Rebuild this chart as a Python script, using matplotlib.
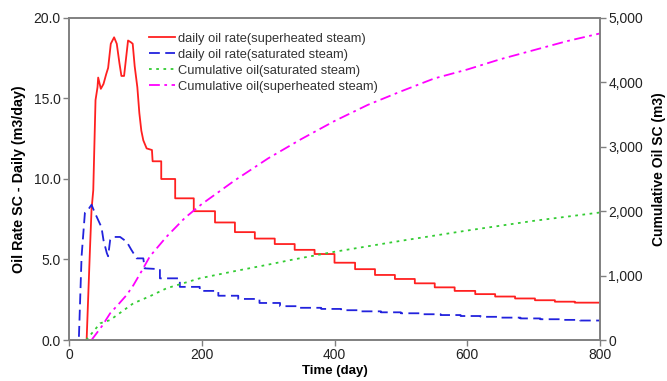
import matplotlib.pyplot as plt

plt.rcParams['font.family'] = ['Liberation Sans', 'DejaVu Sans']

# Datos
dias_sup = [26.6, 29, 31.6, 34, 36.6, 40, 43, 44, 48, 52, 56, 59, 63, 68, 72, 76, 79, 83, 86, 89, 93, 96,
            99, 103, 106, 109, 112, 117, 125, 126, 139, 139, 160, 160, 188, 188, 220, 220, 250, 250,
            280, 280, 310, 310, 340, 340, 370, 370, 400, 400, 431, 431, 461, 461, 491, 491, 521, 521,
            551, 551, 581, 581, 612, 612, 642, 642, 672, 672, 702, 702, 732, 732, 762, 762, 800]
tasa_sup = [0, 2.7, 5.6, 8.1, 9.3, 14.9, 15.7, 16.3, 15.6, 15.9, 16.5, 16.9, 18.4, 18.8, 18.4, 17.2, 16.4,
            16.4, 17.5, 18.6, 18.5, 18.4, 17.0, 15.7, 14.1, 13.0, 12.4, 11.9, 11.8, 11.1, 11.1, 10.0,
            10.0, 8.8, 8.8, 8.0, 8.0, 7.3, 7.3, 6.7, 6.7, 6.3, 6.3, 5.96, 5.96, 5.6, 5.6, 5.34, 5.34,
            4.8, 4.8, 4.4, 4.4, 4.04, 4.04, 3.79, 3.79, 3.52, 3.52, 3.27, 3.27, 3.05, 3.05, 2.85, 2.85,
            2.7, 2.7, 2.58, 2.58, 2.47, 2.47, 2.38, 2.38, 2.32, 2.32]

dias_sat = [15, 19, 24, 29, 34, 39, 44, 49, 52, 57, 59, 62, 67, 77, 87, 94, 102, 112, 114, 137, 137,
            167, 167, 197, 197, 225, 225, 255, 255, 287, 287, 318, 318, 348, 348, 380, 380, 410, 410,
            440, 440, 470, 470, 500, 500, 530, 530, 560, 560, 590, 590, 620, 620, 650, 650, 680, 680,
            710, 710, 740, 740, 770, 770, 800]
tasa_sat = [0.2, 5.2, 7.9, 8.1, 8.4, 7.9, 7.45, 7.0, 6.2, 5.4, 5.2, 6.2, 6.4, 6.4, 6.1, 5.6, 5.07, 5.07,
            4.45, 4.4, 3.83, 3.83, 3.3, 3.3, 3.05, 3.05, 2.75, 2.75, 2.55, 2.55, 2.3, 2.3, 2.1, 2.1,
            2.0, 2.0, 1.93, 1.93, 1.85, 1.85, 1.78, 1.78, 1.72, 1.72, 1.66, 1.66, 1.6, 1.6, 1.55, 1.55,
            1.49, 1.49, 1.44, 1.44, 1.39, 1.39, 1.34, 1.34, 1.29, 1.29, 1.25, 1.25, 1.21, 1.21]

dias_acum_sat = [26, 47, 62, 97, 122, 147, 197, 250, 300, 333, 400, 500, 600, 700, 800]
acum_sat = [0, 259, 310, 570, 680, 803, 958, 1070, 1170, 1240, 1370, 1540, 1700, 1850, 1980]

dias_acum_sup = [34, 50, 62, 75, 87, 97, 110, 122, 147, 175, 200, 250, 300, 350, 400, 450, 500,
                 550, 600, 650, 700, 750, 800]
acum_sup = [0, 220, 414, 560, 700, 850, 1080, 1300, 1604, 1900, 2110, 2480, 2820, 3120, 3400, 3650,
            3860, 4060, 4200, 4360, 4500, 4640, 4760]

fig = plt.figure(figsize=(6.67, 3.81), dpi=100)
ax = fig.add_axes([0.1034, 0.1076, 0.7962, 0.8452])
ax2 = ax.twinx()

l1, = ax.plot(dias_sup, tasa_sup, color='#ff2020', lw=1.3, label='daily oil rate(superheated steam)')
l2, = ax.plot(dias_sat, tasa_sat, color='#2222dd', lw=1.3, dashes=(6, 3),
              label='daily oil rate(saturated steam)')
l3, = ax2.plot(dias_acum_sat, acum_sat, color='#33cc33', lw=1.3, dashes=(1.5, 2.5),
               label='Cumulative oil(saturated steam)')
l4, = ax2.plot(dias_acum_sup, acum_sup, color='#ff00ff', lw=1.3, dashes=(6, 2.5, 1.5, 2.5),
               label='Cumulative oil(superheated steam)')

ax.set_xlim(0, 800)
ax.set_ylim(0, 20)
ax2.set_ylim(0, 5000)
ax.set_xticks([0, 200, 400, 600, 800])
ax.set_yticks([0, 5, 10, 15, 20])
ax.set_yticklabels(['0.0', '5.0', '10.0', '15.0', '20.0'])
ax2.set_yticks([0, 1000, 2000, 3000, 4000, 5000])
ax2.set_yticklabels(['0', '1,000', '2,000', '3,000', '4,000', '5,000'])

for a in (ax, ax2):
    for s in a.spines.values():
        s.set_color('#808080')
        s.set_linewidth(1.2)
    a.tick_params(colors='#808080', labelcolor='#222222', labelsize=10, length=4, width=1, pad=2)

ax.set_xlabel('Time (day)', fontsize=9.5, fontweight='bold', labelpad=2)
ax.set_ylabel('Oil Rate SC - Daily (m3/day)', fontsize=10.3, fontweight='bold')
ax2.set_ylabel('Cumulative Oil SC (m3)', fontsize=10, fontweight='bold')
ax.yaxis.set_label_coords(-0.08, 0.5)
ax2.yaxis.set_label_coords(1.097, 0.53)

leg = ax.legend(handles=[l1, l2, l3, l4], loc='upper left', bbox_to_anchor=(0.139, 0.975), frameon=False,
                fontsize=9.3, handlelength=2.0, handletextpad=0.25, labelspacing=0.31, borderpad=0)
for t in leg.get_texts():
    t.set_color('#333333')

fig.savefig('out.png', dpi=100)
